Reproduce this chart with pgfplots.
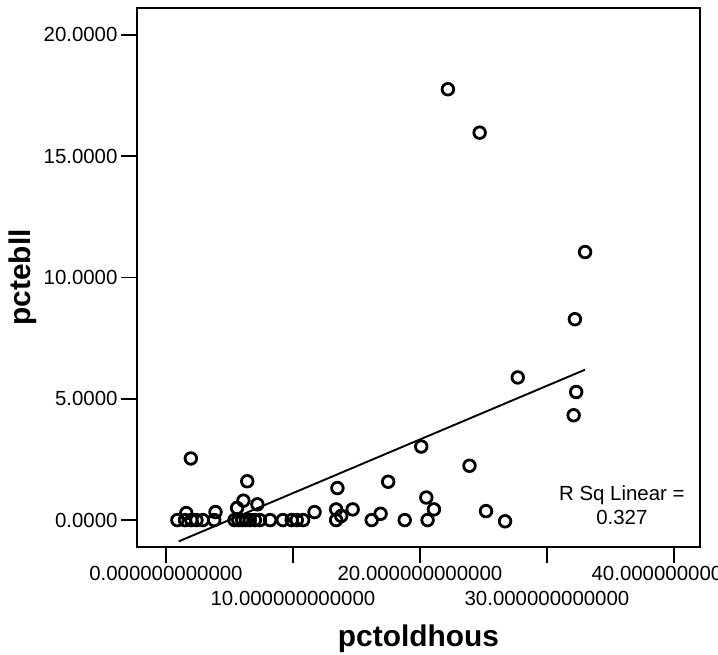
\documentclass[border=0pt]{standalone}
\usepackage{fontspec}
\setmainfont{Liberation Sans}
\usepackage{pgfplots}
\pgfplotsset{compat=1.18}

% pctoldhous vs pctebll
\pgfplotstableread{
x y
0.9 0
1.5 0
2.0 0
2.4 0
2.9 0
3.8 0
5.4 0
5.7 0
6.0 0
6.3 0
6.6 0
7.0 0
7.4 0
8.2 0
9.2 0
9.9 0
10.3 0
10.8 0
13.4 0
16.2 0
18.8 0
20.6 0
26.7 -0.05
1.6 0.29
3.9 0.33
5.6 0.5
6.1 0.8
7.2 0.65
6.4 1.6
1.96 2.54
11.7 0.33
13.5 1.32
13.4 0.44
14.7 0.44
13.8 0.17
17.5 1.58
16.9 0.26
20.1 3.03
20.5 0.93
21.1 0.44
23.9 2.24
25.2 0.37
27.7 5.88
32.3 5.28
32.1 4.32
32.2 8.28
33.0 11.05
22.2 17.76
24.7 15.97
}\pts

\begin{document}
\begin{tikzpicture}[x=1bp,y=1bp]
\begin{axis}[
  at={(0,0)}, anchor=south west,
  scale only axis, width=563bp, height=539bp,
  xmin=-2.28, xmax=42.05, ymin=-1.11, ymax=21.11,
  axis line style={line width=1.9bp},
  tick align=outside, major tick length=16bp,
  tick style={line width=1.9bp, black},
  xtick pos=left, ytick pos=left,
  xtick={0,20,40},
  xticklabels={0.000000000000,20.000000000000,40.000000000000},
  extra x ticks={10,30},
  extra x tick labels={10.000000000000,30.000000000000},
  extra x tick style={tick label style={yshift=-25bp}},
  ytick={0,5,10,15,20},
  yticklabels={0.0000,5.0000,10.0000,15.0000,20.0000},
  tick label style={font=\fontsize{20.5}{24}\selectfont},
  /pgf/number format/assume math mode=true,
  xlabel={pctoldhous}, ylabel={pctebll},
  every axis x label/.style={at={(axis description cs:0.5,-0.1855)}, anchor=base,
    font=\fontsize{30}{34}\selectfont\bfseries},
  every axis y label/.style={at={(axis description cs:-0.19,0.5)}, rotate=90, anchor=base,
    font=\fontsize{30}{34}\selectfont\bfseries},
]
\addplot[only marks, mark=o, mark size=5.8bp, mark options={line width=2.8bp, black}] table {\pts};
% fit line
\addplot[black, line width=1.9bp] coordinates {(1.0,-0.88) (33.0,6.2)};
\node[align=center, font=\fontsize{20.5}{24}\selectfont] at (axis cs:35.9,0.62) {R Sq Linear =\\0.327};
\end{axis}
\pgfresetboundingbox
\path[use as bounding box] (-137,-108) rectangle (581,547);
\end{tikzpicture}
\end{document}
